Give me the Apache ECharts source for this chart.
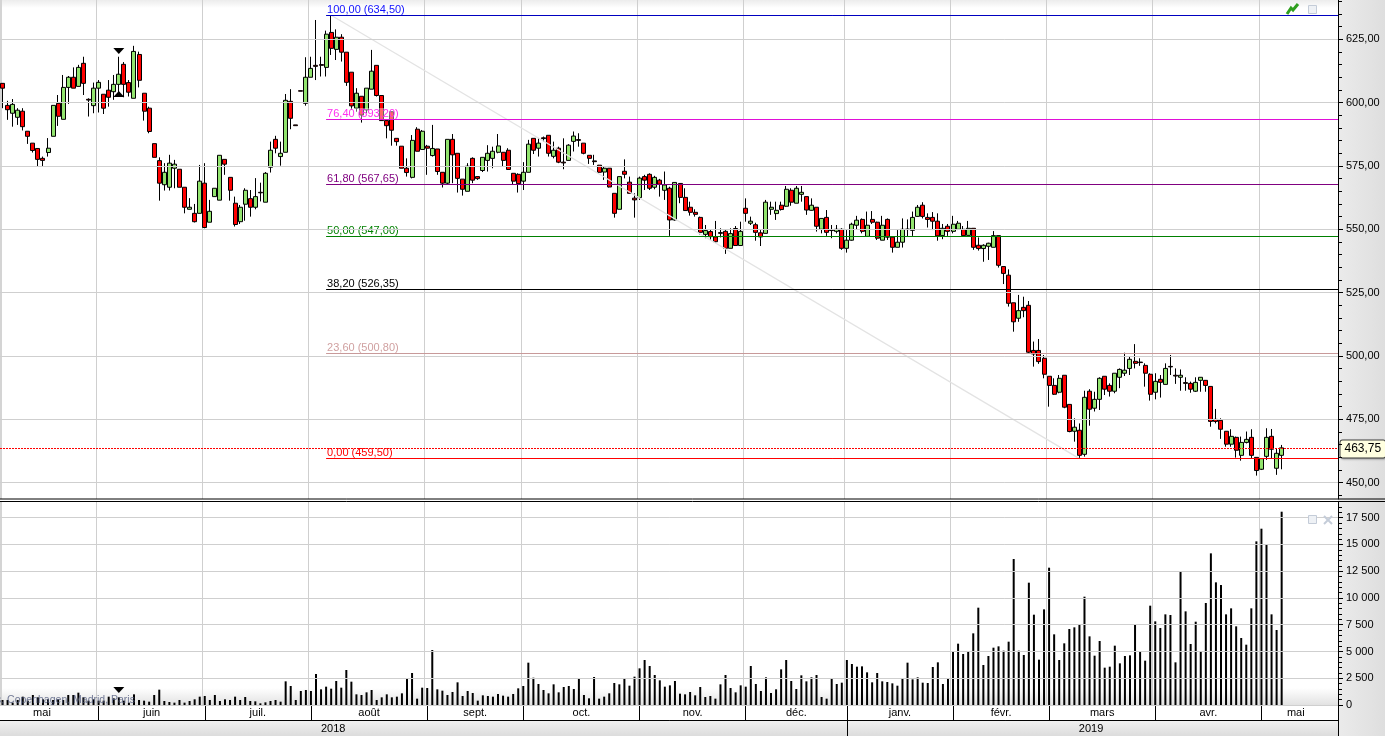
<!DOCTYPE html>
<html>
<head>
<meta charset="utf-8">
<script src="https://cdn.jsdelivr.net/npm/echarts@6/dist/echarts.min.js"></script>
<style>html,body{margin:0;padding:0;background:#fff}#c{width:1385px;height:736px}</style>
</head>
<body>
<div id="c"></div>
<script>
const opens = [
607.6,598.9,595.8,594.2,596.6,588.7,584,581.9,578,580.3,
586.7,599.7,593.4,606,610,606.4,615.5,601.3,598.8,605.7,
603.3,604.9,604.3,607.2,615.1,607.9,601.7,619,603.7,597.8,
583.8,577.1,567.6,566.6,574.1,573.7,566.6,557.9,556.3,556.3,
568.2,552.8,562.9,561.5,577.6,570.5,560.3,553,559.9,562.1,
558.7,564.6,560.7,574.5,585.5,578.7,580.4,600.5,591.2,604.7,
599.7,610,614.7,615,613.9,627.7,621,625.8,619.9,612,
597.8,602.5,597.1,605.3,614.7,602.8,592.9,596.4,585.9,582.8,
574.1,570.5,589.5,581.5,582.8,579.1,581.7,572.5,568.2,585.5,
580,569.8,565,578,570.8,573.2,577.2,578,580.4,580.4,
581.2,572.1,571.7,569,572.5,585.9,582,586.1,587.1,578.8,
582,576.5,577.2,584.7,585.4,584,579.2,577,575.3,572.6,
574.1,564.2,557.9,572.9,568.6,562.3,562.5,570.8,571.7,566.6,
569.4,565.4,566.2,553.7,568.1,562.6,558.7,556.7,554.7,548,
549.1,547,548.7,549.2,542.5,550.3,543.6,558.3,552.4,551.8,
548.6,548.4,557.9,556.2,559.5,559.1,565.4,560.3,563.8,562.9,
557.5,558.7,550,554.7,549.7,549.2,550,542.5,545.7,551.6,
553.9,547.2,553.9,552.8,545.7,553.9,546.9,542.9,544.9,550.1,
549.6,555.1,559.5,554.7,554.7,553.2,547.5,551.2,549.2,550,
550,547.6,550.4,543.7,542.4,543.3,542.9,547.5,535.3,531.9,
521,514.9,519.2,520,502.2,502.2,499.1,492,488.4,485.7,
492.4,480.9,470.3,470.7,461.2,486.1,479.4,482.9,492,488.4,
486.1,491.6,493.2,495.1,497.9,497.6,496.3,492.8,485.7,490.8,
488.8,495.9,492.4,491.6,489.5,489.2,486.1,490.4,490.4,488,
475,474.6,470.3,465.2,467.9,460.8,465.9,467.9,460,455.3,
460.4,468.3,455.7,460.8];
const closes = [
605.7,597.2,599.3,597,590.5,586.7,581.1,577.6,577.2,582,
598.9,594.6,606,610,605.7,613.9,607.6,601,605.7,608,
597.8,602.1,607.2,611.2,607.2,604.1,620.2,608.8,596.6,588.6,
578.4,568.2,572.5,576.1,575.7,566.6,558.7,558.7,553,569,
550.7,557.1,566.2,579.2,575.7,565.4,551.9,558.7,565.4,558.7,
562.9,564.4,572.1,581.2,582,580,600.9,593.8,590.9,604.5,
610,613.5,614.3,614.7,627,621.4,625.8,619.9,608,598.7,
603.7,595.1,605.7,612.4,602.8,592.9,590.9,589.1,584.6,574.1,
572.4,585.1,580.8,588.7,582,581.9,572.8,568.2,585.5,579.4,
570.1,565.8,574.9,569.4,570,578.4,580,580.8,582.9,577.2,
573.6,569,568,572.5,583.6,581.2,584,585.8,580,581.2,
576.5,576.2,583.2,586.8,585.1,580,578,576.7,572.5,574.1,
566.7,556.3,570.8,571.7,564.2,561.6,570.2,569.4,566.2,570.5,
567.8,567.5,553.7,568.5,562.6,557.4,556.7,555.9,548.8,549.5,
547.1,545.1,548.4,542.5,548.3,543.6,549.2,556.3,553.2,548.8,
547,560.7,558.7,557.5,557.8,565.8,560.7,566.2,564.6,557.6,
559.5,551.2,554.3,548.8,549.5,550,542.5,545.7,552,553.6,
549.2,551.6,552.8,546.5,551.6,546.9,542.9,544.9,550,549.9,
554.7,558.7,555.1,553.9,553.2,547.4,550.4,549.2,552,552.4,
547.5,550.4,542.9,542.4,543.7,544.5,547.5,535.8,532.6,520.8,
513.5,517.9,517.9,501.5,500.8,497.8,492.8,488.4,484.9,491.2,
479.8,470.2,471.9,460.8,483.7,479,482.9,491.2,486.9,486.1,
493.2,494.7,494.4,498.7,497.1,497.4,493.2,484.9,490,489.6,
495.1,495.7,492.1,492.4,489.2,486.9,489.6,491.6,488.4,474.2,
474.2,471.1,465.2,468.3,462.8,465.9,467.1,460.8,454.8,459.5,
467.9,463.2,461.6,463.75];
const lows = [
597.8,593.2,590.5,591.2,589,583.7,580.3,574.7,574.7,578.7,
586.7,590.8,593.4,599.5,605.7,606.4,603,594.5,595.8,596.1,
595.5,598.4,601.1,602.4,602.1,602.4,601.7,606,592.9,587.9,
578.4,561.3,565.3,565.3,566.2,566.6,556.3,557.9,552.7,556.3,
550.4,552.8,562.9,561.5,571.5,561.3,551.1,552.1,553.4,555,
557.9,561,560.7,572.4,580,575.1,580.4,589.5,590.9,604.5,
598.8,610,608.9,610.3,610.3,618.8,616.8,616.2,606.6,597.1,
596.4,592.1,595.8,605.3,602.4,592.9,585.9,583,583,574.1,
570.8,570.1,580.8,581.5,571.5,578.7,571.5,566.5,567.5,568.2,
564.5,563.3,565,568.2,569.5,572.6,572.8,574.1,580,574.7,
573.4,567.5,564.5,565.5,572.5,579.7,578.7,584.6,578.7,578,
576.1,573.7,577.2,580.7,582.6,579.6,575.8,575.4,572.1,569.5,
566.5,554.6,557.9,570.1,564.2,554.6,561.6,565.5,565.5,565.8,
562.9,561.6,547.4,553.4,560.3,557.4,555.4,555,548,546.5,
545.8,544.7,546.8,540.3,542.5,543.6,543.6,553,551.7,545.5,
543.4,548.4,555.7,553.7,557.4,558.9,559.3,560.3,560.9,555.7,
557.4,549.1,548.4,547.4,546.5,548.4,541.9,540.8,545.5,550,
548.4,547.2,552.1,545.8,545.7,545.8,540.8,542.9,542.8,547.1,
547.4,555,554.3,550.7,549.7,545.5,546.1,547.4,548.4,549.7,
547.4,547.6,541.9,541.6,537.2,537.9,542.9,534.9,528.4,519.5,
509.6,513.5,515.3,500.8,495.8,496.9,491.2,480,484.6,485.3,
479.4,469.9,466.2,459.5,460.3,472.5,478.1,478.7,484.6,484,
485.3,487.3,492.1,492.5,495.1,496.1,487.9,482.4,482.9,483.6,
488.8,492.5,489,486.3,486.3,485.5,485.8,485.9,485.9,472.1,
473.4,467.3,464.2,464.2,459.9,458.7,465.5,459.6,452.8,455,
459,459.6,453.1,455.3];
const highs = [
607.6,600.7,601.4,597.8,597.8,588.7,584,581.9,578.7,586,
598.9,603,610.9,610.5,613.9,614.9,618.1,601.7,607.9,608.9,
603.3,608.9,610.9,618.1,616,608.9,622.4,620.1,603.7,598.4,
583.8,578.4,576.1,579.4,577.4,573.7,566.6,562.3,560,575.4,
576.1,561.6,566.2,579.2,577.6,570.5,562.9,559.6,566.2,565.5,
570.2,568.4,572.6,584.6,586.9,584.6,603.4,605.3,591.2,604.7,
617.9,618.1,632.6,618.1,628.4,634.5,628.9,627,619.9,612,
605.7,602.5,605.7,620.8,614.7,602.8,592.9,596.4,585.9,582.8,
578,587.2,590.3,589.2,583.3,591.2,581.7,572.5,585.5,587.6,
580,569.8,576.1,578.4,570.8,578.4,583.2,582.6,587.6,580.4,
582,572.1,572.1,576.5,585.3,585.9,585.9,586.6,587.1,584.6,
582.6,585.9,583.6,588.6,587.9,584,579.2,579.4,575.4,574.8,
574.1,564.2,570.8,577.6,570.8,564.2,570.8,571.5,572.1,571.1,
569.9,572.8,566.8,568.5,568.1,566.2,560.9,557.9,555,551.7,
550,553.3,550.4,549.7,550.4,551.3,553,562.2,555,552.6,
549.7,561.6,560.9,560.9,560.9,567.1,566.2,567.1,567.1,562.9,
562.2,558.7,554.3,557.6,551.7,551.7,550.4,549.7,552.6,555.3,
554.3,557,557.2,553,555.3,554.3,546.9,549.7,554.3,553.9,
557,559.6,560.7,556.3,556.8,556.3,552.1,552.1,555.3,553.3,
551.3,553.3,550.4,546.8,544.1,544.7,549.3,547.5,535.3,534.2,
521,524.1,523.4,521.7,505.7,506.7,500.4,492,491.2,492.5,
492.4,480.9,475.4,473.4,486.3,486.9,485.9,491.6,492,489.2,
493.2,495.1,501.3,500,504.7,499.1,497.1,493.2,493.2,492.5,
497.1,500.4,495.1,494.7,491.6,489.9,491.6,491.6,490.5,488,
479.1,475.4,470.3,471.1,468.2,468.2,470.2,471.1,460,459.5,
471.5,471.2,463.6,464.9];
const volumes = [
467,467,218,467,778,405,934,716,530,530,
467,530,467,934,934,1152,716,405,530,405,
405,778,623,716,405,218,996,467,405,311,
934,1432,374,280,218,467,218,374,530,778,
841,467,934,374,530,467,778,467,747,374,
343,156,249,374,467,311,2211,1775,467,1308,
1401,1308,2896,1464,1713,1526,2242,1619,3270,2180,
996,934,1183,1401,467,716,996,716,778,1090,
2491,2989,592,1619,1588,5138,1464,1339,934,1214,
2118,841,1308,1121,405,903,841,779,1028,872,
779,1028,1557,1775,3955,2553,1962,1401,1090,1931,
1183,1682,1775,1495,2429,934,623,2616,592,779,
1090,2055,1931,2429,1806,2647,3425,4204,3643,2803,
2304,1713,1837,2242,1059,996,1214,903,1682,747,
841,592,1931,2803,1588,1183,1837,1713,3643,1962,
1308,2585,1121,1464,3332,4204,2242,1495,2771,2211,
2585,2803,747,592,2491,1962,2086,4204,3830,3581,
3612,3052,2118,2989,2211,2149,2024,1806,2491,3955,
2398,2585,2086,2055,3550,3986,1962,2429,4951,5730,
4764,4951,6695,9093,3737,4578,5356,5481,5076,5917,
13639,5076,4671,11428,8439,4235,8937,12830,6602,4204,
5761,7100,7256,7567,10120,6415,4609,5979,3488,3581,
5543,3893,4578,4640,7536,4951,4142,9280,7816,7193,
8470,8408,3986,12425,8750,5699,7785,4951,9529,14169,
11460,11210,8470,9031,7349,6259,5636,9031,15290,16473,
14978,8470,7007,18061];

const monthStarts = [19,40,61,84,103,126,147,167,188,207,228,249];
const monthLabels = ['mai','juin','juil.','août','sept.','oct.','nov.','déc.','janv.','févr.','mars','avr.','mai'];
const monthLabelAt = [7.8,29.5,50.5,72.5,93.5,114.5,136.5,157,177.5,197.5,217.5,238.5,255.8];
const yearStart = [167];
const yearLabels = ['2018','2019'];
const yearLabelAt = [65.4,215.3];
const priceTicks = [450,475,500,525,550,575,600,625];
const priceMinorTicks = [445,450,455,460,465,470,475,480,485,490,495,500,505,510,515,520,525,530,535,540,545,550,555,560,565,570,575,580,585,590,595,600,605,610,615,620,625,630,635,640];
const volumeTicks = [0,2500,5000,7500,10000,12500,15000,17500];
const volumeMinorTicks = [0,500,1000,1500,2000,2500,3000,3500,4000,4500,5000,5500,6000,6500,7000,7500,8000,8500,9000,9500,10000,10500,11000,11500,12000,12500,13000,13500,14000,14500,15000,15500,16000,16500,17000,17500,18000,18500];
const fibLevels = ['100,00','76,40','61,80','50,00','38,20','23,60','0,00'];
const fibPrices = [634.5,593.2,567.65,547,526.35,500.8,459.5];
const fibLineColors = ['#0000c0','#e010d8','#800080','#008000','#000000','#c89a9a','#ff0000'];
const fibTextColors = ['#1010ff','#ff30f0','#800080','#008000','#000000','#d0a0a0','#ff0000'];
const lastPrice = 463.75;
const trendStart = [65,634.5];
const trendEnd = [213,459.5];
const fibStartIndex = 64;
const rightIndex = 264;
const priceMarks = [[23,620.4,180],[23,603.4,0]];
const volumeMarks = [[23,1400,180]];

const categories = Array.from({length:265},(_,i)=>String(i));
const FONT = '"Liberation Sans", Arial, sans-serif';
const comma = v => v.toFixed(2).replace('.',',');
const spaced = v => String(v).replace(/\B(?=(\d{3})+$)/g,' ');
const lookup = (vals,labs) => v => { const k = vals.findIndex(x=>Math.abs(x-v)<0.01); return k<0?'':labs[k]; };

const PRICE_MIN = 443.57, PRICE_MAX = 640.49, VOL_MAX = 18967;
const GRID_W = 1339.8, AXIS_OFF = -1.8, GRIDLINE = '#cfcfcf';

const thinSplit = {show:true,lineStyle:{color:GRIDLINE,width:1}};
function bandAxis(gridIndex, extra){
  return Object.assign({type:'category',gridIndex,data:categories,boundaryGap:true,
    axisLine:{show:false},axisLabel:{show:false},z:1,
    axisTick:{show:false,alignWithLabel:true,customValues:monthStarts},splitLine:thinSplit},extra);
}
function yAxisMain(gridIndex,min,max,ticks,fmt){
  return {type:'value',gridIndex,position:'right',min,max,offset:AXIS_OFF,z:6,
    axisLine:{show:true,lineStyle:{color:'#000',width:1}},
    axisTick:{show:true,length:5,customValues:ticks,lineStyle:{color:'#000'}},
    axisLabel:{show:true,color:'#000',fontFamily:FONT,fontSize:11,margin:8,padding:[5,0,0,0],customValues:ticks,formatter:fmt},
    splitLine:thinSplit};
}
function yAxisMinor(gridIndex,min,max,ticks){
  return {type:'value',gridIndex,position:'right',min,max,offset:AXIS_OFF,z:6,
    axisLine:{show:false},axisLabel:{show:false},splitLine:{show:false},
    axisTick:{show:true,length:4,customValues:ticks,lineStyle:{color:'#000'}}};
}
const crisp = v => Math.floor(v)+0.5;

function renderTrend(params, api){
  const a = api.coord(trendStart), b = api.coord(trendEnd);
  return {type:'line',silent:true,shape:{x1:a[0],y1:a[1],x2:b[0],y2:b[1]},style:{stroke:'#e3e3e3',lineWidth:1.2}};
}
function renderFib(params, api){
  const k = params.dataIndex, p = fibPrices[k];
  const a = api.coord([fibStartIndex,p]), b = api.coord([rightIndex,p]);
  const y = crisp(a[1]);
  return {type:'group',children:[
    {type:'line',silent:true,shape:{x1:a[0],y1:y,x2:Math.ceil(b[0]),y2:y},style:{stroke:fibLineColors[k],lineWidth:1}},
    {type:'text',silent:true,style:{x:a[0]+1,y:y-6,text:fibLevels[k]+' ('+comma(p)+')',fill:fibTextColors[k],
      font:'11px "Liberation Sans"',align:'left',verticalAlign:'middle',backgroundColor:'rgba(255,255,255,.4)'}}
  ]};
}
function renderLast(params, api){
  const a = api.coord([0,lastPrice]), b = api.coord([rightIndex,lastPrice]);
  const y = crisp(a[1]+0.5);
  return {type:'group',children:[
    {type:'line',silent:true,shape:{x1:0,y1:y,x2:Math.ceil(b[0]),y2:y},style:{stroke:'#ff0000',lineWidth:1,lineDash:[2,1]}},
    {type:'text',silent:true,style:{x:Math.ceil(b[0])+2.5,y:y+0.5,text:comma(lastPrice),fill:'#000',font:'12px "Liberation Sans"',
      align:'left',verticalAlign:'middle',backgroundColor:'#ffffe0',borderColor:'#444',borderWidth:1,borderRadius:2,padding:[3,4,2,4],
      shadowColor:'rgba(0,0,0,.25)',shadowBlur:2,shadowOffsetX:1,shadowOffsetY:1}}
  ]};
}
const tri = (m)=>({coord:[m[0],m[1]],symbol:'triangle',symbolSize:[11,6],symbolRotate:m[2],
  itemStyle:{color:'#000'},label:{show:false}});

const option = {
  animation:false,
  backgroundColor:'#fff',
  textStyle:{fontFamily:FONT},
  grid:[
    {left:0,top:0,width:GRID_W,height:499},
    {left:0,top:502,width:GRID_W,height:203},
    {left:0,top:705,width:GRID_W,height:15},
    {left:0,top:720,width:GRID_W,height:16}
  ],
  xAxis:[
    bandAxis(0,{position:'bottom'}),
    bandAxis(0,{position:'top',axisTick:{show:false,alignWithLabel:true,customValues:yearStart},
      splitLine:{show:true,lineStyle:{color:'#d4d4d4',width:3}}}),
    bandAxis(1,{position:'bottom',axisLine:{show:true,lineStyle:{color:'#000',width:1}}}),
    bandAxis(1,{position:'top',axisTick:{show:false,alignWithLabel:true,customValues:yearStart},
      splitLine:{show:true,lineStyle:{color:'#d4d4d4',width:3}}}),
    {type:'value',gridIndex:2,position:'bottom',min:-0.5,max:264.5,splitLine:{show:false},z:3,
     axisLine:{show:true,lineStyle:{color:'#000',width:1}},
     axisTick:{show:true,inside:true,length:15,customValues:monthStarts,lineStyle:{color:'#000'}},
     axisLabel:{show:true,inside:true,margin:2,color:'#000',fontFamily:FONT,fontSize:11,
       customValues:monthLabelAt,formatter:lookup(monthLabelAt,monthLabels)}},
    {type:'value',gridIndex:3,position:'bottom',min:-0.5,max:264.5,splitLine:{show:false},z:3,
     axisLine:{show:false},
     axisTick:{show:true,inside:true,length:16,customValues:yearStart,lineStyle:{color:'#000'}},
     axisLabel:{show:true,inside:true,margin:2,color:'#000',fontFamily:FONT,fontSize:11,
       customValues:yearLabelAt,formatter:lookup(yearLabelAt,yearLabels)}}
  ],
  yAxis:[
    yAxisMain(0,PRICE_MIN,PRICE_MAX,priceTicks,comma),
    yAxisMinor(0,PRICE_MIN,PRICE_MAX,priceMinorTicks),
    yAxisMain(1,0,VOL_MAX,volumeTicks,spaced),
    yAxisMinor(1,0,VOL_MAX,volumeMinorTicks),
    {type:'value',gridIndex:2,show:false,min:0,max:1},
    {type:'value',gridIndex:3,show:false,min:0,max:1}
  ],
  series:[
    {type:'candlestick',xAxisIndex:0,yAxisIndex:0,barWidth:4.5,large:false,silent:true,z:2,
     data:opens.map((o,i)=>[o,closes[i],lows[i],highs[i]]),
     itemStyle:{color:'#92e46e',color0:'#ff0000',borderColor:'#000',borderColor0:'#000',borderColorDoji:'#000',borderWidth:1},
     markPoint:{silent:true,animation:false,data:priceMarks.map(tri)}},
    {type:'bar',xAxisIndex:2,yAxisIndex:2,barWidth:2,silent:true,
     data:volumes,itemStyle:{color:'#000'},
     markPoint:{silent:true,animation:false,data:volumeMarks.map(tri)}},
    {type:'custom',xAxisIndex:0,yAxisIndex:0,silent:true,z:3,clip:false,renderItem:renderTrend,
     data:[[trendStart[0],trendStart[1]]],encode:{x:0,y:1}},
    {type:'custom',xAxisIndex:0,yAxisIndex:0,silent:true,z:4,clip:false,renderItem:renderFib,
     data:fibPrices.map(p=>[fibStartIndex,p]),encode:{x:0,y:1}},
    {type:'custom',xAxisIndex:0,yAxisIndex:0,silent:true,z:5,clip:false,renderItem:renderLast,
     data:[[0,lastPrice]],encode:{x:0,y:1}}
  ],
  graphic:{elements:[
    {type:'rect',silent:true,z:-1,shape:{x:0,y:0,width:1338,height:8},
     style:{fill:{type:'linear',x:0,y:0,x2:0,y2:1,colorStops:[{offset:0,color:'#ececec'},{offset:1,color:'#ffffff'}]}}},
    {type:'rect',silent:true,z:-1,shape:{x:0,y:688,width:1338,height:17},
     style:{fill:{type:'linear',x:0,y:0,x2:0,y2:1,colorStops:[{offset:0,color:'#ffffff'},{offset:1,color:'#e2e2e2'}]}}},
    {type:'rect',silent:true,z:-1,shape:{x:0,y:720,width:1338,height:16},
     style:{fill:{type:'linear',x:0,y:0,x2:0,y2:1,colorStops:[{offset:0,color:'#f2f2f2'},{offset:1,color:'#dcdcdc'}]}}},
    {type:'rect',silent:true,z:4,shape:{x:1338,y:0,width:47,height:736},
     style:{fill:{type:'linear',x:0,y:0,x2:1,y2:0,colorStops:[{offset:0,color:'#ebebeb'},{offset:1,color:'#dedede'}]}}},
    {type:'line',silent:true,z:7,shape:{x1:0,y1:499,x2:1385,y2:499},style:{stroke:'#000',lineWidth:1}},
    {type:'line',silent:true,z:7,shape:{x1:0,y1:501.5,x2:1385,y2:501.5},style:{stroke:'#000',lineWidth:1}},
    {type:'line',silent:true,z:7,shape:{x1:1338.5,y1:705,x2:1338.5,y2:736},style:{stroke:'#000',lineWidth:1}},
    {type:'text',silent:true,z:8,style:{x:-4,y:700,text:'s, Copenhagen, Madrid, Paris',align:'left',verticalAlign:'middle',font:'10.5px "Liberation Sans"',fill:'rgba(80,90,125,.8)'}},
    {type:'polyline',silent:true,z:8,shape:{points:[[1287,14],[1291,8],[1293,10],[1298,4]]},style:{stroke:'#2f9f1f',lineWidth:3,fill:'none'}},
    {type:'rect',silent:true,z:8,shape:{x:1308.5,y:5.5,width:8,height:8},style:{stroke:'#c4ccd8',fill:'#eef1f5',lineWidth:1}},
    {type:'rect',silent:true,z:8,shape:{x:1308.5,y:515.5,width:8,height:8},style:{stroke:'#c4ccd8',fill:'#eef1f5',lineWidth:1}},
    {type:'line',silent:true,z:8,shape:{x1:1324,y1:516,x2:1332,y2:524},style:{stroke:'#c4ccd8',lineWidth:2}},
    {type:'line',silent:true,z:8,shape:{x1:1332,y1:516,x2:1324,y2:524},style:{stroke:'#c4ccd8',lineWidth:2}}
  ]}
};
const chart = echarts.init(document.getElementById('c'),null,{renderer:'canvas'});
chart.setOption(option);
</script>
</body>
</html>
